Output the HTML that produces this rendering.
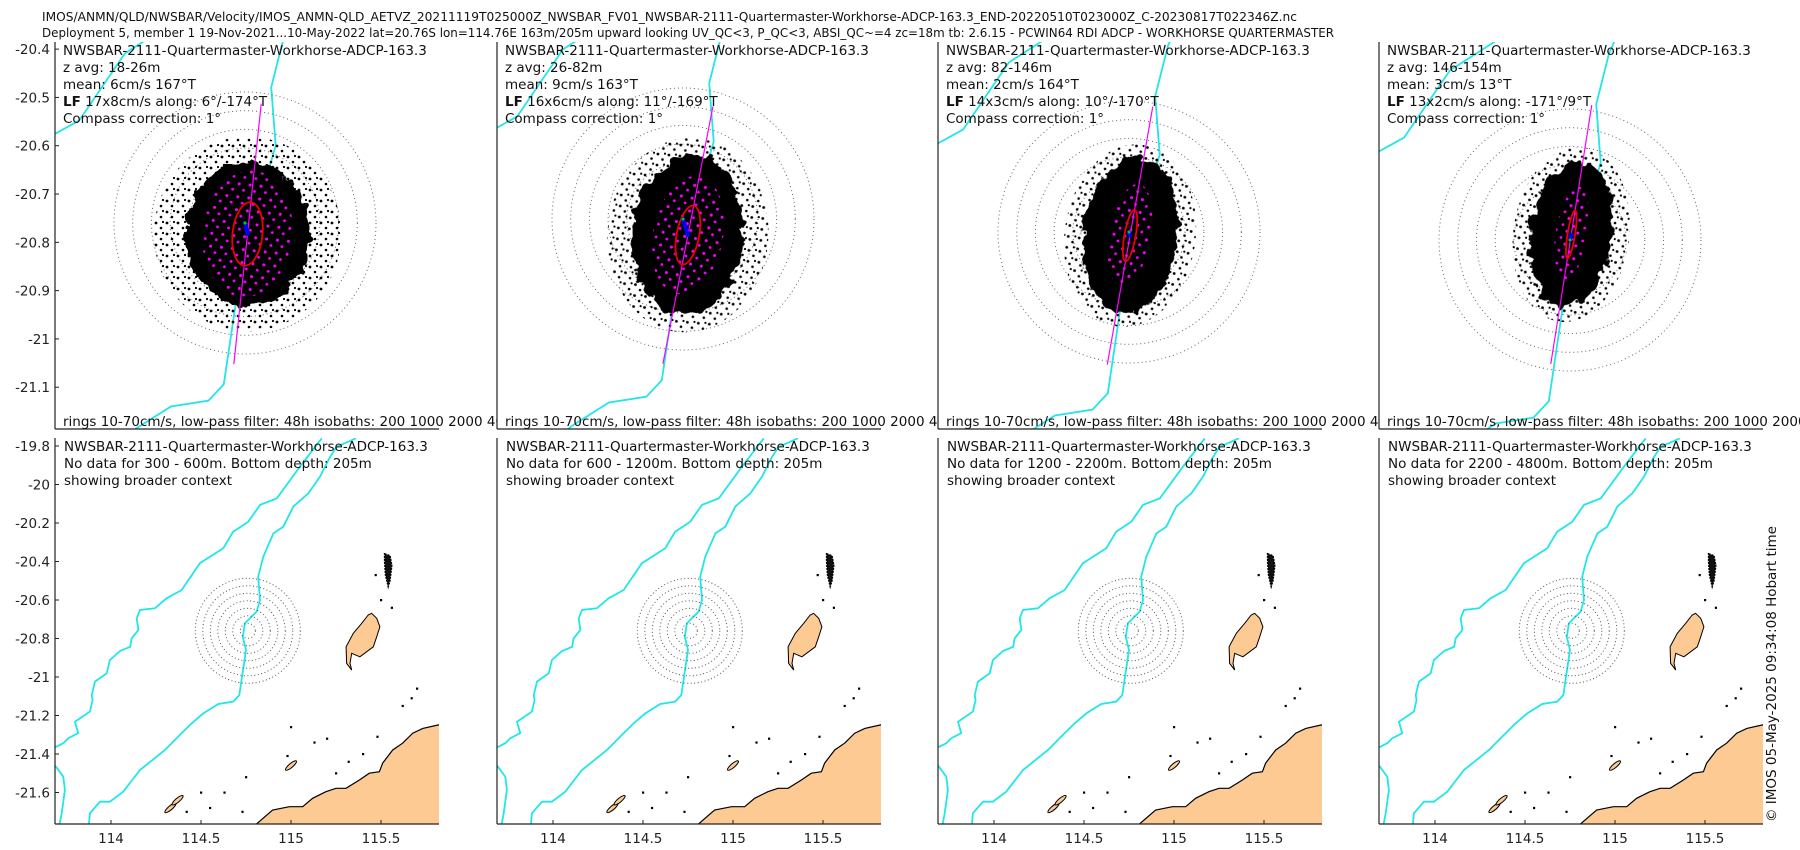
<!DOCTYPE html>
<html><head><meta charset="utf-8"><title>NWSBAR ADCP velocity</title>
<style>
html,body{margin:0;padding:0;background:#fff;}
svg{display:block;font-family:"DejaVu Sans","Liberation Sans",sans-serif;}
</style></head>
<body>
<svg id="fig" width="1800" height="850" viewBox="0 0 1800 850" xmlns="http://www.w3.org/2000/svg">
<defs>
<pattern id="halo" width="11" height="11" patternUnits="userSpaceOnUse"><circle cx="2" cy="3" r="1.4" fill="#000"/><circle cx="7" cy="8" r="1.3" fill="#000"/><circle cx="9" cy="2" r="1.1" fill="#000"/></pattern>
<pattern id="magdots" width="11" height="13" patternUnits="userSpaceOnUse"><circle cx="3" cy="3" r="1.5" fill="#f0f"/><circle cx="8" cy="9" r="1.4" fill="#f0f"/></pattern>
<filter id="rough" x="-20%" y="-20%" width="140%" height="140%">
<feTurbulence type="fractalNoise" baseFrequency="0.09" numOctaves="2" seed="3" result="n"/>
<feDisplacementMap in="SourceGraphic" in2="n" scale="16" xChannelSelector="R" yChannelSelector="G"/>
</filter>
</defs>
<text x="42" y="21" font-size="12.5" fill="#111" textLength="1255" lengthAdjust="spacingAndGlyphs">IMOS/ANMN/QLD/NWSBAR/Velocity/IMOS_ANMN-QLD_AETVZ_20211119T025000Z_NWSBAR_FV01_NWSBAR-2111-Quartermaster-Workhorse-ADCP-163.3_END-20220510T023000Z_C-20230817T022346Z.nc</text>
<text x="42" y="37" font-size="12.5" fill="#111" textLength="1292" lengthAdjust="spacingAndGlyphs">Deployment 5, member 1 19-Nov-2021...10-May-2022 lat=20.76S lon=114.76E 163m/205m upward looking UV_QC&lt;3, P_QC&lt;3, ABSI_QC~=4 zc=18m tb: 2.6.15 - PCWIN64 RDI ADCP - WORKHORSE QUARTERMASTER</text>
<text transform="translate(1776,822) rotate(-90)" font-size="13.5" fill="#111">© IMOS 05-May-2025 09:34:08 Hobart time</text>
</svg>
<script>
// ---- data ----
var zRanges = ["18-26m","26-82m","82-146m","146-154m"];
var meanSpeed = [6, 9, 2, 3];
var meanDir = [167, 163, 164, 13];
var lfMajor = [17, 16, 14, 13];
var lfMinor = [8, 6, 3, 2];
var lfAlong = [6, 11, 10, -171];
var lfAlongLabel = ["6°/-174°T","11°/-169°T","10°/-170°T","-171°/9°T"];
var spreadX = [33, 30, 25, 22];
var spreadY = [39, 43, 42, 39];
var haloX = [50, 43, 35, 31];
var haloY = [52, 52, 49, 47];
var blobTilt = [0, 5, 8, 8];
var noDataRanges = ["300 - 600m","600 - 1200m","1200 - 2200m","2200 - 4800m"];
var ringSpeeds = [10, 20, 30, 40, 50, 60, 70];
var topYTicks = [-20.4, -20.5, -20.6, -20.7, -20.8, -20.9, -21, -21.1];
var botYTicks = [-19.8, -20, -20.2, -20.4, -20.6, -20.8, -21, -21.2, -21.4, -21.6];
var botXTicks = [114, 114.5, 115, 115.5];
var mooringLon = 114.76, mooringLat = -20.76;
var isobath200 = [[115.361,-19.76],[115.254,-19.804],[115.217,-19.856],[115.161,-19.959],[115.096,-20.046],[115.013,-20.115],[114.957,-20.219],[114.902,-20.254],[114.846,-20.375],[114.818,-20.479],[114.828,-20.6],[114.809,-20.661],[114.744,-20.721],[114.732,-20.791],[114.75,-20.86],[114.713,-21.094],[114.679,-21.128],[114.596,-21.14],[114.513,-21.189],[114.448,-21.241],[114.383,-21.301],[114.3,-21.379],[114.161,-21.483],[114.068,-21.596],[113.994,-21.648],[113.939,-21.648],[113.883,-21.708],[113.874,-21.8]];
var isobath1000 = [[115.171,-19.76],[115.05,-19.907],[114.921,-20.072],[114.828,-20.106],[114.763,-20.193],[114.679,-20.245],[114.624,-20.331],[114.494,-20.409],[114.393,-20.548],[114.309,-20.591],[114.244,-20.643],[114.161,-20.652],[114.143,-20.695],[114.152,-20.756],[114.115,-20.799],[114.106,-20.843],[114.05,-20.865],[113.994,-20.912],[113.976,-20.981],[113.911,-21.024],[113.893,-21.094],[113.898,-21.119],[113.883,-21.18],[113.8,-21.232],[113.818,-21.292],[113.763,-21.318],[113.735,-21.344],[113.68,-21.37]];
var isobath2000 = [[113.68,-21.45],[113.694,-21.466],[113.735,-21.518],[113.744,-21.587],[113.726,-21.708],[113.707,-21.8]];
var barrowIsland = [[115.448,-20.669],[115.476,-20.695],[115.494,-20.739],[115.476,-20.791],[115.457,-20.843],[115.383,-20.895],[115.337,-20.877],[115.328,-20.929],[115.337,-20.964],[115.309,-20.929],[115.306,-20.843],[115.346,-20.773],[115.393,-20.721],[115.429,-20.678]];
var mainland = [[114.806,-21.8],[114.806,-21.765],[114.898,-21.691],[114.991,-21.674],[115.065,-21.674],[115.12,-21.63],[115.194,-21.596],[115.25,-21.578],[115.306,-21.578],[115.38,-21.535],[115.435,-21.5],[115.491,-21.492],[115.509,-21.448],[115.565,-21.379],[115.62,-21.344],[115.676,-21.292],[115.732,-21.267],[115.82,-21.249],[116,-21.249],[116,-21.9],[114.8,-21.9]];
var montebello = [[115.52,-20.36],[115.55,-20.37],[115.56,-20.42],[115.55,-20.5],[115.54,-20.53],[115.525,-20.47],[115.52,-20.4]];
var islets = [[115.5,-20.6],[115.56,-20.64],[115.47,-20.47],[115.7,-21.06],[115.67,-21.11],[115.62,-21.15],[115.0,-21.26],[115.13,-21.34],[115.2,-21.32],[114.98,-21.41],[114.75,-21.52],[114.5,-21.6],[114.63,-21.6],[114.55,-21.68],[114.42,-21.7],[114.73,-21.7],[115.25,-21.5],[115.32,-21.44],[115.4,-21.4],[115.48,-21.31]];
var smallIslands = [[114.33,-21.68],[114.37,-21.64],[115.0,-21.46]];

// ---- layout ----
var NS = "http://www.w3.org/2000/svg";
var svg = document.getElementById('fig');
var lefts = [55, 497, 938, 1379];
var PW = 384;
var topT = 42, topB = 429, botT = 438, botB = 824;
var ringDx = [0, -4, 1, 1], ringDy = [0, -4, 9, 17];
var PXCM = 131 / 70;
function mk(tag, attrs, parent) {
  var e = document.createElementNS(NS, tag);
  for (var k in attrs) e.setAttribute(k, attrs[k]);
  (parent || svg).appendChild(e);
  return e;
}
function xT(i, lon) { return lefts[i] + 190 + ringDx[i] + (lon - mooringLon) * 452; }
function yT(i, lat) { return 223 + ringDy[i] + (mooringLat - lat) * 483; }
function xB(i, lon) { return lefts[i] + 56 + (lon - 114) * 180; }
function yB(lat) { return 446 + (-19.8 - lat) * 192.5; }
function pts(arr, fx, fy) { return arr.map(function (p) { return fx(p[0]).toFixed(1) + ',' + fy(p[1]).toFixed(1); }).join(' '); }

for (var i = 0; i < 4; i++) {
  var L = lefts[i];
  var cp = mk('clipPath', { id: 'clipT' + i });
  mk('rect', { x: L, y: topT, width: PW, height: topB - topT }, cp);
  var bg = mk('rect', { x: L, y: topT, width: PW + 2, height: topB - topT + 2, fill: '#fff' });
  
  
  var g = mk('g', { 'clip-path': 'url(#clipT' + i + ')' });
  
  
  var fx = function (ii) { return function (lon) { return xT(ii, lon); }; }(i);
  var fy = function (ii) { return function (lat) { return yT(ii, lat); }; }(i);
  [isobath200, isobath1000, isobath2000].forEach(function (iso) {
    var pl = mk('polyline', { points: pts(iso, fx, fy), fill: 'none', stroke: '#22e6e6', 'stroke-width': 1.8 }, g);
    
    
  });
  var cx = xT(i, mooringLon), cy = yT(i, mooringLat);
  ringSpeeds.forEach(function (s) {
    var r = mk('circle', { cx: cx, cy: cy, r: s * PXCM, fill: 'none', stroke: '#666', 'stroke-width': 1, 'stroke-dasharray': '1 3' }, g);
    
    
  });
  var ms = meanSpeed[i] * PXCM, md = meanDir[i] * Math.PI / 180;
  var mx = cx + ms * Math.sin(md), my = cy - ms * Math.cos(md);
  var halo = mk('ellipse', { cx: mx, cy: my, rx: haloX[i] * PXCM, ry: haloY[i] * PXCM, fill: 'url(#halo)', transform: 'rotate(' + blobTilt[i] + ' ' + mx + ' ' + my + ')' }, g);
  
  
  var core = mk('ellipse', { cx: mx, cy: my, rx: spreadX[i] * PXCM, ry: spreadY[i] * PXCM, fill: '#000', filter: 'url(#rough)', transform: 'rotate(' + blobTilt[i] + ' ' + mx + ' ' + my + ')' }, g);
  
  
  var rot = 'rotate(' + lfAlong[i] + ' ' + mx + ' ' + my + ')';
  var mag = mk('ellipse', { cx: mx, cy: my, rx: lfMinor[i] * 2.6 * PXCM + 6, ry: lfMajor[i] * 2 * PXCM, fill: 'url(#magdots)', transform: rot }, g);
  
  
  var ax = mk('line', { x1: mx, y1: my - 70 * PXCM, x2: mx, y2: my + 70 * PXCM, stroke: '#f0f', 'stroke-width': 1.2, transform: rot }, g);
  
  
  var el = mk('ellipse', { cx: mx, cy: my, rx: lfMinor[i] * PXCM, ry: lfMajor[i] * PXCM, fill: 'none', stroke: '#e00', 'stroke-width': 1.8, transform: rot }, g);
  
  
  var ar = mk('line', { x1: cx, y1: cy, x2: mx, y2: my, stroke: '#00f', 'stroke-width': 4, 'stroke-linecap': 'round' }, g);
  
  
  var gd = mk('circle', { cx: cx, cy: cy, r: 1.5, fill: '#0c0' }, g);
  
  
  var lines = ['NWSBAR-2111-Quartermaster-Workhorse-ADCP-163.3', 'z avg: ' + zRanges[i], 'mean: ' + meanSpeed[i] + 'cm/s ' + meanDir[i] + '°T', null, 'Compass correction: 1°'];
  lines.forEach(function (t, k) {
    var tx = mk('text', { x: L + 8, y: 55 + k * 17, 'font-size': 13.5, fill: '#111' });
    if (t === null) {
      var b = mk('tspan', { 'font-weight': 'bold' }, tx);
      b.textContent = 'LF';
      var r2 = mk('tspan', {}, tx);
      r2.textContent = ' ' + lfMajor[i] + 'x' + lfMinor[i] + 'cm/s along: ' + lfAlongLabel[i];
    } else {
      tx.textContent = t;
    }
    
    
  });
  var ft = mk('text', { x: L + 8, y: 426, 'font-size': 13.5, fill: '#111' });
  ft.textContent = 'rings 10-70cm/s, low-pass filter: 48h isobaths: 200 1000 2000 4000';
  
  
  var yl = mk('line', { x1: L, y1: topT, x2: L, y2: topB, stroke: '#222', 'stroke-width': 1.2 });
  
  
  var xl = mk('line', { x1: L, y1: topB, x2: L + PW, y2: topB, stroke: '#222', 'stroke-width': 1.2 });
  
  
  if (i === 0) {
    topYTicks.forEach(function (v) {
      var y = yT(0, v);
      var tk = mk('line', { x1: L, y1: y, x2: L + 4, y2: y, stroke: '#222' });
      
      
      var lb = mk('text', { x: L - 5, y: y + 5, 'font-size': 13.5, fill: '#222', 'text-anchor': 'end' });
      lb.textContent = String(v);
      
      
    });
  }
}

for (var i = 0; i < 4; i++) {
  var L = lefts[i];
  var cp = mk('clipPath', { id: 'clipB' + i });
  mk('rect', { x: L, y: botT, width: PW, height: botB - botT }, cp);
  var bg = mk('rect', { x: L, y: botT, width: PW, height: botB - botT, fill: '#fff' });
  
  
  var g = mk('g', { 'clip-path': 'url(#clipB' + i + ')' });
  
  
  var fx = function (ii) { return function (lon) { return xB(ii, lon); }; }(i);
  var land = mk('polygon', { points: pts(mainland, fx, yB), fill: '#fdca94', stroke: '#000', 'stroke-width': 1.2 }, g);
  
  
  var bi = mk('polygon', { points: pts(barrowIsland, fx, yB), fill: '#fdca94', stroke: '#000', 'stroke-width': 1 }, g);
  
  
  var mb = mk('polygon', { points: pts(montebello, fx, yB), fill: '#111', stroke: '#000', 'stroke-width': 1.5, 'stroke-dasharray': '2 1' }, g);
  
  
  islets.forEach(function (p) {
    var d = mk('rect', { x: xB(i, p[0]) - 1, y: yB(p[1]) - 1, width: 2.2, height: 2.2, fill: '#000' }, g);
    
    
  });
  smallIslands.forEach(function (p) {
    var d = mk('ellipse', { cx: xB(i, p[0]), cy: yB(p[1]), rx: 2, ry: 7, fill: '#fdca94', stroke: '#000', transform: 'rotate(50 ' + xB(i, p[0]) + ' ' + yB(p[1]) + ')' }, g);
    
    
  });
  [isobath200, isobath1000, isobath2000].forEach(function (iso) {
    var pl = mk('polyline', { points: pts(iso, fx, yB), fill: 'none', stroke: '#22e6e6', 'stroke-width': 1.8 }, g);
    
    
  });
  var cx = xB(i, mooringLon), cy = yB(mooringLat);
  ringSpeeds.forEach(function (s) {
    var r = mk('circle', { cx: cx, cy: cy, r: s * 0.75, fill: 'none', stroke: '#555', 'stroke-width': 1, 'stroke-dasharray': '1 2.5' }, g);
    
    
  });
  var lines = ['NWSBAR-2111-Quartermaster-Workhorse-ADCP-163.3', 'No data for ' + noDataRanges[i] + '. Bottom depth: 205m', 'showing broader context'];
  lines.forEach(function (t, k) {
    var tx = mk('text', { x: L + 9, y: 451 + k * 17, 'font-size': 13.5, fill: '#111' });
    tx.textContent = t;
    
    
  });
  var yl = mk('line', { x1: L, y1: botT, x2: L, y2: botB, stroke: '#222', 'stroke-width': 1.2 });
  
  
  var xl = mk('line', { x1: L, y1: botB, x2: L + PW, y2: botB, stroke: '#222', 'stroke-width': 1.2 });
  
  
  botXTicks.forEach(function (v) {
    var x = xB(i, v);
    var tk = mk('line', { x1: x, y1: botB, x2: x, y2: botB - 4, stroke: '#222' });
    
    
    var lb = mk('text', { x: x, y: botB + 19, 'font-size': 13.5, fill: '#222', 'text-anchor': 'middle' });
    lb.textContent = String(v);
    
    
  });
  if (i === 0) {
    botYTicks.forEach(function (v) {
      var y = yB(v);
      var tk = mk('line', { x1: L, y1: y, x2: L + 4, y2: y, stroke: '#222' });
      
      
      var lb = mk('text', { x: L - 5, y: y + 5, 'font-size': 13.5, fill: '#222', 'text-anchor': 'end' });
      lb.textContent = String(v);
      
      
    });
  }
}
</script>
</body></html>
